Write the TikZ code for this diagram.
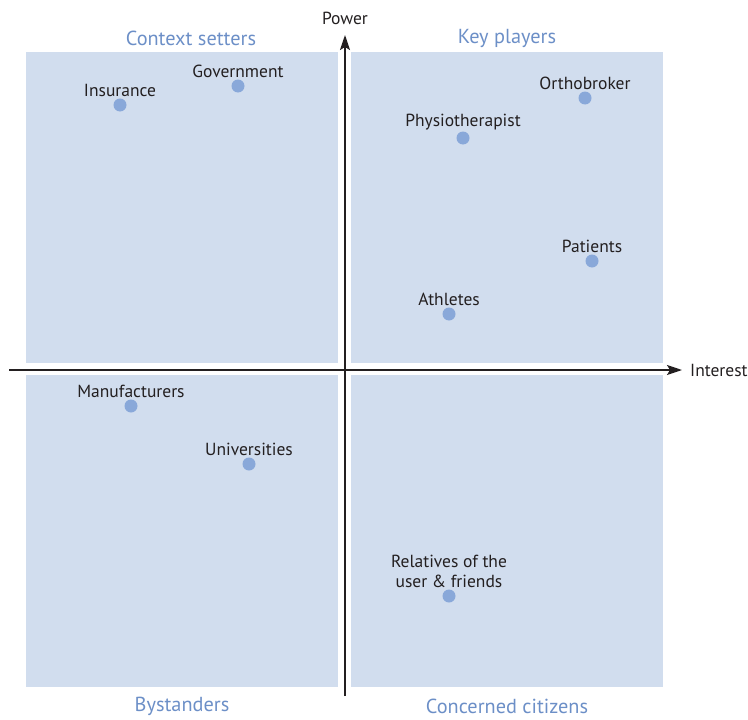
\documentclass[tikz,border=0pt]{standalone}
\usepackage{fontspec}
\setmainfont{PT Sans}
\usetikzlibrary{arrows.meta,positioning}
\definecolor{quadfill}{HTML}{D1DDEE}
\definecolor{dotblue}{HTML}{89A8D9}
\definecolor{catblue}{HTML}{6C8FC7}
\definecolor{inkdark}{HTML}{231F20}
\tikzset{
    quad/.style={fill=quadfill, draw=none},
    actor/.style={circle, fill=dotblue, inner sep=0pt, minimum size=13pt},
    actorlabel/.style={font=\fontsize{17.5}{20}\selectfont, text=inkdark, align=center, inner sep=1pt},
    category/.style={font=\fontsize{20.3}{22}\selectfont, text=catblue},
    axislabel/.style={font=\fontsize{17.5}{20}\selectfont, text=inkdark}
}
\begin{document}
\begin{tikzpicture}[x=1pt, y=-1pt]
        \useasboundingbox (0,0) rectangle (748,720);
        % quadrants
        \fill[quad] (26, 52) rectangle (338, 363);
        \fill[quad] (351, 52) rectangle (663, 363);
        \fill[quad] (26, 375) rectangle (338, 687);
        \fill[quad] (351, 375) rectangle (663, 687);

        \def\axy{370}
        \def\axx{345}

        % axes
        \coordinate (xstart) at (9, \axy);
        \coordinate (xend) at (682, \axy);
        \coordinate (ystart) at (\axx, 696);
        \coordinate (yend) at (\axx, 35);
        \draw[inkdark, line width=1.5pt, -{Stealth[length=15pt, width=10pt, inset=3pt]}] (xstart) -- (xend);
        \draw[inkdark, line width=1.5pt, -{Stealth[length=15pt, width=10pt, inset=3pt]}] (ystart) -- (yend);
        \node[axislabel, anchor=west, inner sep=0pt] (interest) at (690, \axy) {Interest};
        \node[axislabel] (power) at (\axx, 18) {Power};

        % quadrant names
        \node[category] (context) at (191, 38) {Context setters};
        \node[category] (keyplayers) at (507, 38) {Key players};
        \node[category] (bystanders) at (182, 706) {Bystanders};
        \node[category] (concerned) at (507, 706) {Concerned citizens};

        % stakeholders
        \node[actor] (insurance) at (120, 105) {};
        \node[actorlabel, above=0pt of insurance] {Insurance};
        \node[actor] (government) at (238, 86) {};
        \node[actorlabel, above=0pt of government] {Government};
        \node[actor] (orthobroker) at (585, 98) {};
        \node[actorlabel, above=0pt of orthobroker] {Orthobroker};
        \node[actor] (physio) at (463, 138) {};
        \node[actorlabel, above=0pt of physio] {Physiotherapist};
        \node[actor] (patients) at (592, 261) {};
        \node[actorlabel, above=0pt of patients] {Patients};
        \node[actor] (athletes) at (449, 314) {};
        \node[actorlabel, above=0pt of athletes] {Athletes};
        \node[actor] (manufacturers) at (131, 406) {};
        \node[actorlabel, above=0pt of manufacturers] {Manufacturers};
        \node[actor] (universities) at (249, 464) {};
        \node[actorlabel, above=0pt of universities] {Universities};
        \node[actor] (relatives) at (449, 596) {};
        \node[actorlabel, above=0pt of relatives] {Relatives of the\\user \& friends};
    \end{tikzpicture}
\end{document}
